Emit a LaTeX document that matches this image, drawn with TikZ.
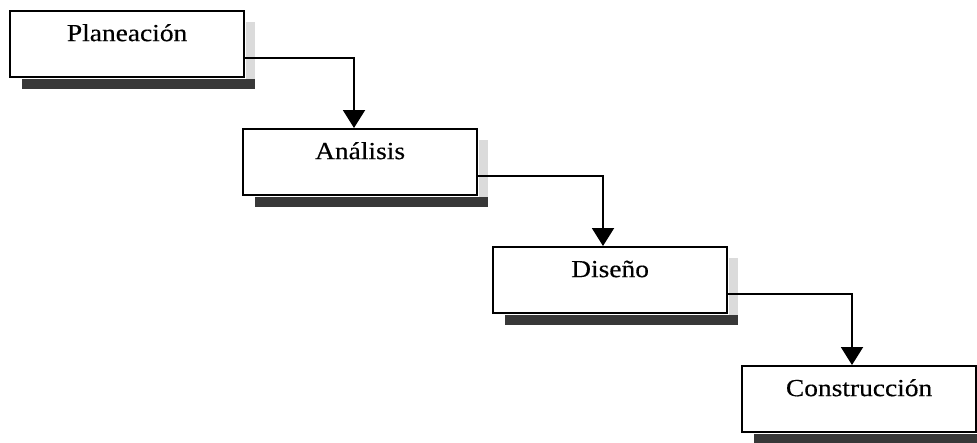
\documentclass[tikz,border=0pt]{standalone}
\usepackage{fontspec}
\setmainfont{Liberation Serif}[FakeStretch=1.12,FakeBold=0.4]
\usetikzlibrary{arrows.meta,calc}
\begin{document}
\begin{tikzpicture}[x=1pt,y=-1pt,
  phase/.style={draw=black, line width=2.2pt, fill=white, anchor=north west,
    minimum width=234pt, minimum height=66pt, inner xsep=4pt, inner ysep=14pt,
    text height=16pt, text depth=22pt, font=\fontsize{24.5}{28}\selectfont},
  flow/.style={line width=2pt, -{Triangle[width=22pt,length=18pt]}},
  shadowdark/.style={fill=black!78},
  shadowlight/.style={fill=black!14}]
\useasboundingbox (0,0) rectangle (977,442);
\node[phase] (plan) at (9,10) {Planeación};
\node[phase] (anal) at (242,128) {Análisis};
\node[phase] (dise) at (492,246) {Diseño};
\node[phase] (cons) at (741,365) {Construcción};
\foreach \n in {plan,anal,dise,cons} {
  \fill[shadowdark] ($(\n.south west)+(13,0.5)$) rectangle ($(\n.south east)+(10,11)$);
  \fill[shadowlight] ($(\n.north east)+(0.5,12)$) rectangle ($(\n.south east)+(10,0.5)$);
}
\draw[flow] ($(plan.north east)+(0,48)$) -| ($(anal.north west)+(112,0)$);
\draw[flow] ($(anal.north east)+(0,48)$) -| ($(dise.north west)+(111,0)$);
\draw[flow] ($(dise.north east)+(0,48)$) -| ($(cons.north west)+(111,0)$);
\end{tikzpicture}
\end{document}
